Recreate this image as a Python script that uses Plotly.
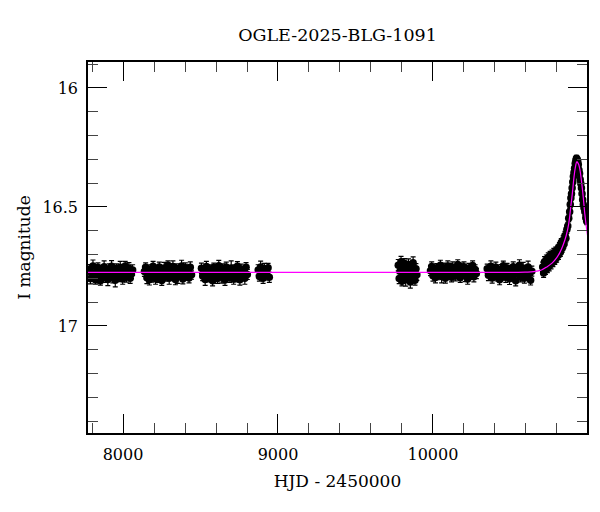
import plotly.graph_objects as go

# ---- photometry, per observing season (HJD - 2450000, I mag, error) ----
t1 = [7782,7790,7798,7806,7814,7822,7830,7838,7846,7854,7862,7870,7878,7886,7894,7902,7910,7918,
      7926,7934,7942,7950,7958,7966,7974,7982,7990,7998,8006,8014,8022,8030,8038,8046,8054,8062]
m1 = [16.762,16.801,16.779,16.748,16.792,16.806,16.771,16.755,16.789,16.810,16.768,16.783,16.751,16.797,
      16.776,16.805,16.760,16.787,16.749,16.799,16.772,16.808,16.758,16.785,16.794,16.753,16.779,16.803,
      16.766,16.748,16.791,16.774,16.757,16.800,16.782,16.765]
e1 = [0.020,0.022,0.019,0.025,0.021,0.018, 0.023,0.020,0.030,0.019,0.022,0.021,
      0.024,0.020,0.018,0.026,0.021,0.019, 0.023,0.020,0.022,0.028,0.019,0.021,
      0.020,0.024,0.018,0.022,0.021,0.019, 0.025,0.020,0.023,0.021,0.019,0.022]

t2 = [8138,8146,8154,8162,8170,8178,8186,8194,8202,8210,8218,8226,8234,8242,8250,8258,8266,8274,8282,
      8290,8298,8306,8314,8322,8330,8338,8346,8354,8362,8370,8378,8386,8394,8402,8410,8418,8426,8434,8442]
m2 = [16.771,16.754,16.798,16.783,16.806,16.761,16.790,16.749,16.776,16.802,16.767,16.795,16.752,16.784,
      16.809,16.770,16.757,16.792,16.779,16.745,16.800,16.763,16.787,16.750,16.774,16.805,16.759,16.793,
      16.768,16.781,16.748,16.803,16.777,16.756,16.790,16.766,16.799,16.753,16.785]
e2 = [0.021,0.019,0.024,0.020,0.022,0.018, 0.026,0.020,0.021,0.023,0.019,0.022,
      0.020,0.031,0.021,0.019,0.024,0.020, 0.022,0.018,0.025,0.021,0.020,0.023,
      0.019,0.022,0.020,0.028,0.021,0.019, 0.024,0.020,0.022,0.021,0.018,0.023,
      0.020,0.022,0.019]

t3 = [8506,8514,8522,8530,8538,8546,8554,8562,8570,8578,8586,8594,8602,8610,8618,8626,8634,8642,8650,
      8658,8666,8674,8682,8690,8698,8706,8714,8722,8730,8738,8746,8754,8762,8770,8778,8786,8794,8802]
m3 = [16.758,16.790,16.772,16.805,16.750,16.784,16.797,16.763,16.779,16.810,16.755,16.788,16.769,16.801,
      16.747,16.782,16.794,16.760,16.775,16.807,16.752,16.786,16.771,16.798,16.757,16.780,16.803,16.764,
      16.791,16.749,16.776,16.806,16.761,16.789,16.773,16.800,16.754,16.784]
e3 = [0.022,0.020,0.019,0.025,0.021,0.023, 0.018,0.020,0.029,0.022,0.019,0.021,
      0.024,0.020,0.022,0.018,0.026,0.021, 0.019,0.023,0.020,0.022,0.021,0.019,
      0.030,0.020,0.022,0.021,0.024,0.019, 0.020,0.023,0.021,0.018,0.022,0.025,
      0.020,0.021]

t4 = [8872,8880,8888,8896,8904,8912,8920,8928,8936,8944]
m4 = [16.765,16.792,16.752,16.781,16.800,16.760,16.787,16.774,16.756,16.796]
e4 = [0.022,0.020,0.024,0.019,0.021,0.023,0.020,0.022,0.019,0.021]

t5 = [9776,9782,9788,9794,9800,9806,9812,9818,9824,9830,9836,9842,9848,9854,9860,9866,9872,9878,9884,9890,9896]
m5 = [16.745,16.801,16.770,16.730,16.812,16.758,16.789,16.738,16.806,16.766,16.795,16.742,16.780,16.815,
      16.753,16.792,16.735,16.776,16.808,16.760,16.785]
e5 = [0.024,0.021,0.026,0.022,0.020,0.025, 0.023,0.021,0.027,0.022,0.020,0.024,
      0.021,0.026,0.022,0.020,0.025,0.023, 0.021,0.022,0.024]

t6 = [9984,9992,10000,10008,10016,10024,10032,10040,10048,10056,10064,10072,10080,10088,10096,10104,10112,
      10120,10128,10136,10144,10152,10160,10168,10176,10184,10192,10200,10208,10216,10224,10232,10240,10248,
      10256,10264,10272,10280]
m6 = [16.768,16.750,16.789,16.775,16.797,16.756,16.782,16.764,16.745,16.792,16.771,16.758,16.800,16.778,
      16.748,16.786,16.762,16.795,16.753,16.774,16.790,16.766,16.742,16.781,16.798,16.759,16.776,16.751,
      16.788,16.769,16.803,16.757,16.784,16.772,16.746,16.793,16.763,16.780]
e6 = [0.021,0.019,0.023,0.020,0.022,0.018, 0.024,0.020,0.021,0.027,0.019,0.022,
      0.020,0.023,0.021,0.019,0.025,0.020, 0.022,0.018,0.021,0.024,0.020,0.022,
      0.019,0.023,0.021,0.020,0.026,0.019, 0.022,0.020,0.021,0.023,0.019,0.022,
      0.020,0.021]

t7 = [10350,10358,10366,10374,10382,10390,10398,10406,10414,10422,10430,10438,10446,10454,10462,10470,
      10478,10486,10494,10502,10510,10518,10526,10534,10542,10550,10558,10566,10574,10582,10590,10598,
      10606,10614,10622,10630,10638]
m7 = [16.760,16.787,16.772,16.749,16.799,16.766,16.781,16.754,16.793,16.775,16.806,16.762,16.785,16.747,
      16.779,16.796,16.757,16.770,16.802,16.764,16.789,16.751,16.777,16.810,16.768,16.783,16.745,16.795,
      16.773,16.758,16.800,16.766,16.786,16.752,16.779,16.808,16.770]
e7 = [0.020,0.023,0.019,0.022,0.021,0.025, 0.020,0.022,0.018,0.024,0.021,0.020,
      0.023,0.019,0.027,0.021,0.020,0.022, 0.024,0.019,0.021,0.020,0.028,0.022,
      0.019,0.021,0.023,0.020,0.022,0.025, 0.020,0.021,0.019,0.024,0.022,0.020,
      0.021]

t8 = [10708,10714,10720,10726,10732,10738,10744,10750,10756,10762,10768,10774,10780,10786,10792,10798,
      10804,10810,10816,10822,10828,10834,10840,10846,10852,10858,10864,10870,10876,10882,
      10886,10890,10894,10898,10902,10906,10910,10914,10918,10922,10926,10930,10934,10938,10942,10946,
      10950,10954,10958,10962,10966,10970,10975,10980,10986,10992]
m8 = [16.752,16.778,16.730,16.765,16.722,16.758,16.712,16.748,16.705,16.740,16.700,16.733,16.694,16.724,
      16.688,16.714,16.678,16.702,16.666,16.690,16.650,16.674,16.640,16.656,16.620,16.632,16.595,16.580,
      16.548,16.520,
      16.490,16.462,16.445,16.420,16.395,16.372,16.355,16.338,16.318,16.305,16.295,16.300,16.308,16.322,
      16.345,16.360,16.385,16.402,16.420,16.445,16.470,16.490,16.505,16.520,16.545,16.560]
e8 = [0.020,0.018,0.021,0.019,0.020,0.018, 0.019,0.021,0.018,0.020,0.019,0.018,
      0.020,0.017,0.019,0.018,0.017,0.019, 0.016,0.018,0.017,0.016,0.018,0.016,
      0.017,0.015,0.016,0.015,0.014,0.015, 0.014,0.013,0.014,0.013,0.013,0.012,
      0.013,0.012,0.012,0.013,0.012,0.013, 0.012,0.013,0.013,0.014,0.013,0.014,
      0.014,0.015,0.014,0.015,0.015,0.016, 0.016,0.015]

# ---- microlensing model curve ----
model_t = [7770, 10550, 10600, 10650, 10700, 10735, 10770, 10800, 10820, 10840, 10860, 10875, 10890,
           10900, 10910, 10920, 10928, 10935, 10942, 10950, 10960, 10970, 10980, 10990, 11000]
model_m = [16.775, 16.775, 16.774, 16.772, 16.765, 16.752, 16.735, 16.712, 16.690, 16.660, 16.620, 16.575,
           16.495, 16.440, 16.375, 16.330, 16.310, 16.315, 16.325, 16.350, 16.400, 16.460, 16.530, 16.585, 16.630]

x_ticks = [8000, 9000, 10000]
y_ticks = [16, 16.5, 17]
y_ticklabels = ["16", "16.5", "17"]

seasons = [(t1, m1, e1), (t2, m2, e2), (t3, m3, e3), (t4, m4, e4),
           (t5, m5, e5), (t6, m6, e6), (t7, m7, e7), (t8, m8, e8)]

fig = go.Figure()
for t, m, e in seasons:
    fig.add_trace(go.Scatter(
        x=t, y=m, mode="markers",
        marker=dict(color="black", size=7.5, line=dict(width=0)),
        error_y=dict(type="data", array=e, visible=True, color="black", thickness=1.2, width=2.5),
        showlegend=False, hoverinfo="skip", cliponaxis=True))

fig.add_trace(go.Scatter(x=model_t, y=model_m, mode="lines",
                         line=dict(color="#ff00ff", width=1.2, shape="spline"),
                         showlegend=False))

font_family = "DejaVu Serif"
fig.update_layout(
    width=600, height=512,
    margin=dict(l=88, r=13, t=62, b=79, autoexpand=False),
    plot_bgcolor="white", paper_bgcolor="white",
    font=dict(family=font_family, color="black", size=16),
    title=dict(text="OGLE-2025-BLG-1091", x=0.5, xref="paper", xanchor="center",
               y=1 - 35 / 512, yref="container", yanchor="middle",
               font=dict(family=font_family, size=17.5, color="black")),
    showlegend=False,
)
fig.update_xaxes(
    range=[7774, 10994], tickvals=x_ticks, ticktext=[str(v) for v in x_ticks],
    ticks="inside", ticklen=19, tickwidth=1, tickcolor="black",
    showline=True, linecolor="black", linewidth=1.5, mirror="allticks",
    showgrid=False, zeroline=False, ticklabelstandoff=6, automargin=False,
    minor=dict(dtick=200, tick0=0, ticks="inside", ticklen=10, tickwidth=1, tickcolor="#444", showgrid=False),
    title=dict(text="HJD - 2450000", font=dict(size=17), standoff=12),
    tickfont=dict(size=16),
)
fig.update_yaxes(
    range=[17.45, 15.891], tickvals=y_ticks, ticktext=y_ticklabels,
    ticks="inside", ticklen=19, tickwidth=1, tickcolor="black",
    showline=True, linecolor="black", linewidth=1.5, mirror="allticks",
    showgrid=False, zeroline=False, ticklabelstandoff=5, automargin=False,
    minor=dict(dtick=0.1, tick0=0, ticks="inside", ticklen=10, tickwidth=1, tickcolor="#444", showgrid=False),
    title=dict(text="I magnitude", font=dict(size=17), standoff=7),
    tickfont=dict(size=16),
)

fig.write_html("out.html", config={"displayModeBar": False},
               post_script="document.body.style.margin='0';")
